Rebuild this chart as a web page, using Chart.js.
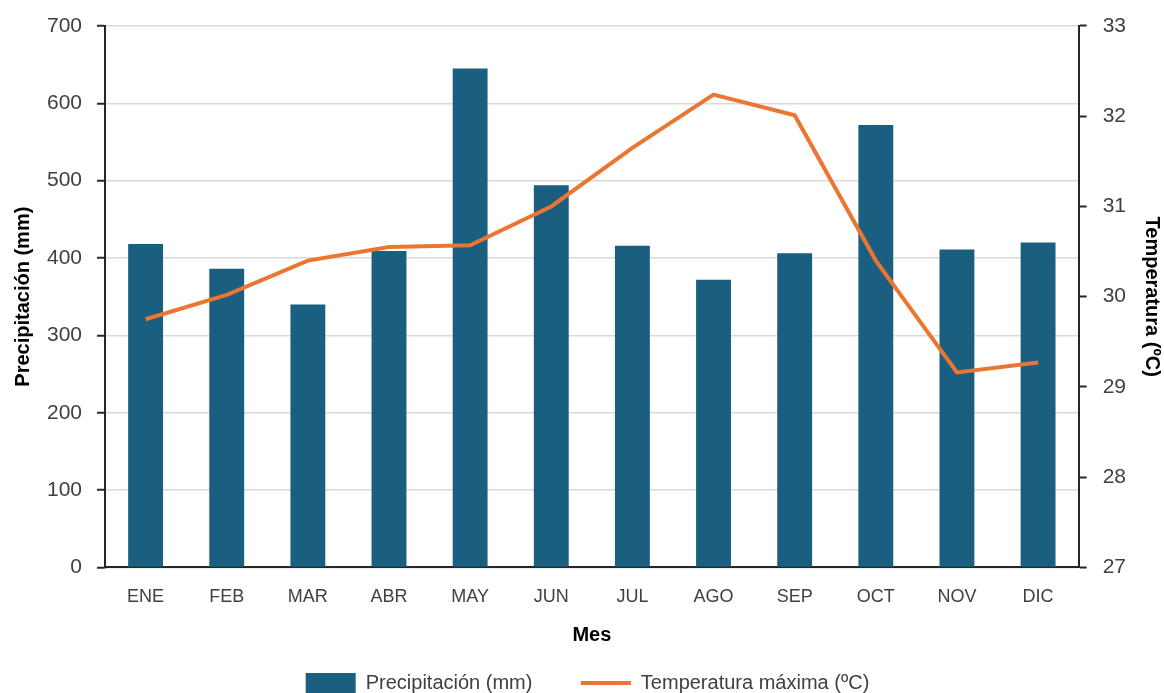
<!DOCTYPE html>
<html>
<head>
<meta charset="utf-8">
<script src="https://cdn.jsdelivr.net/npm/chart.js@4"></script>
<style>
  html, body { margin: 0; padding: 0; background: #fff; }
  #wrap { width: 1164px; height: 693px; }
</style>
</head>
<body>
<div id="wrap"><canvas id="climaChart" width="1164" height="693"></canvas></div>
<script>
const meses = ['ENE', 'FEB', 'MAR', 'ABR', 'MAY', 'JUN', 'JUL', 'AGO', 'SEP', 'OCT', 'NOV', 'DIC'];
const precipitacion = [418, 386, 340, 409, 645, 494, 416, 372, 406, 572, 411, 420];
const tempMaxima = [29.75, 30.02, 30.40, 30.55, 30.57, 31.0, 31.65, 32.24, 32.01, 30.40, 29.16, 29.27];
const ticksPrecip = [0, 100, 200, 300, 400, 500, 600, 700];
const ticksTemp = [27, 28, 29, 30, 31, 32, 33];

const barColor = '#1a5e80';
const lineColor = '#eb7632';
const gridColor = '#d9d9d9';
const axisColor = '#262626';
const labelColor = '#404040';
const numFont = { family: '"Liberation Sans", Arial, sans-serif', size: 21, lineHeight: 0.95 };
const catFont = { family: '"Liberation Sans", Arial, sans-serif', size: 18 };
const legendFont = { family: '"Liberation Sans", Arial, sans-serif', size: 20 };
const titleFont = { family: '"Liberation Sans", Arial, sans-serif', size: 20, weight: 'bold' };

new Chart(document.getElementById('climaChart'), {
  data: {
    labels: meses,
    datasets: [
      {
        type: 'bar',
        label: 'Precipitación (mm)',
        data: precipitacion,
        yAxisID: 'yPrecip',
        backgroundColor: barColor,
        categoryPercentage: 1,
        barPercentage: 0.43,
        pointStyle: 'rect',
        order: 1
      },
      {
        type: 'line',
        label: 'Temperatura máxima (ºC)',
        data: tempMaxima,
        yAxisID: 'yTemp',
        borderColor: lineColor,
        backgroundColor: lineColor,
        borderWidth: 4,
        pointRadius: 0,
        tension: 0,
        pointStyle: 'line',
        order: 0
      }
    ]
  },
  options: {
    responsive: false,
    animation: false,
    layout: { padding: { left: 11, right: 0, top: 0, bottom: -10 } },
    plugins: {
      legend: {
        position: 'bottom',
        labels: {
          usePointStyle: true,
          pointStyleWidth: 50,
          boxHeight: 23,
          padding: 4,
          color: labelColor,
          font: legendFont,
          generateLabels: chart => {
            const items = Chart.defaults.plugins.legend.labels.generateLabels(chart);
            items.sort((a, b) => a.datasetIndex - b.datasetIndex);
            items[0].text = items[0].text + '        ';
            return items;
          }
        }
      },
      tooltip: { enabled: false }
    },
    scales: {
      x: {
        grid: { display: false, drawTicks: false },
        border: { display: true, color: axisColor, width: 2 },
        ticks: { color: labelColor, font: catFont, padding: 19 },
        title: { display: true, text: 'Mes', color: '#000', font: titleFont, padding: { top: -4, bottom: 22 } }
      },
      yPrecip: {
        position: 'left',
        min: 0,
        max: 700,
        afterBuildTicks: axis => { axis.ticks = ticksPrecip.map(v => ({ value: v })); },
        grid: { color: gridColor, lineWidth: 1.5, tickColor: axisColor, tickLength: 8, tickWidth: 2 },
        border: { display: true, color: axisColor, width: 2 },
        ticks: { color: labelColor, font: numFont, padding: 15 },
        title: { display: true, text: 'Precipitación (mm)', color: '#000', font: titleFont, padding: { top: 0, bottom: -3 } }
      },
      yTemp: {
        position: 'right',
        min: 27,
        max: 33,
        afterBuildTicks: axis => { axis.ticks = ticksTemp.map(v => ({ value: v })); },
        grid: { drawOnChartArea: false, tickColor: axisColor, tickLength: 8, tickWidth: 2 },
        border: { display: true, color: axisColor, width: 2 },
        ticks: { color: labelColor, font: numFont, padding: 16 },
        title: { display: true, text: 'Temperatura (ºC)', color: '#000', font: titleFont, padding: { top: 0, bottom: -2 } }
      }
    }
  }
});
</script>
</body>
</html>
